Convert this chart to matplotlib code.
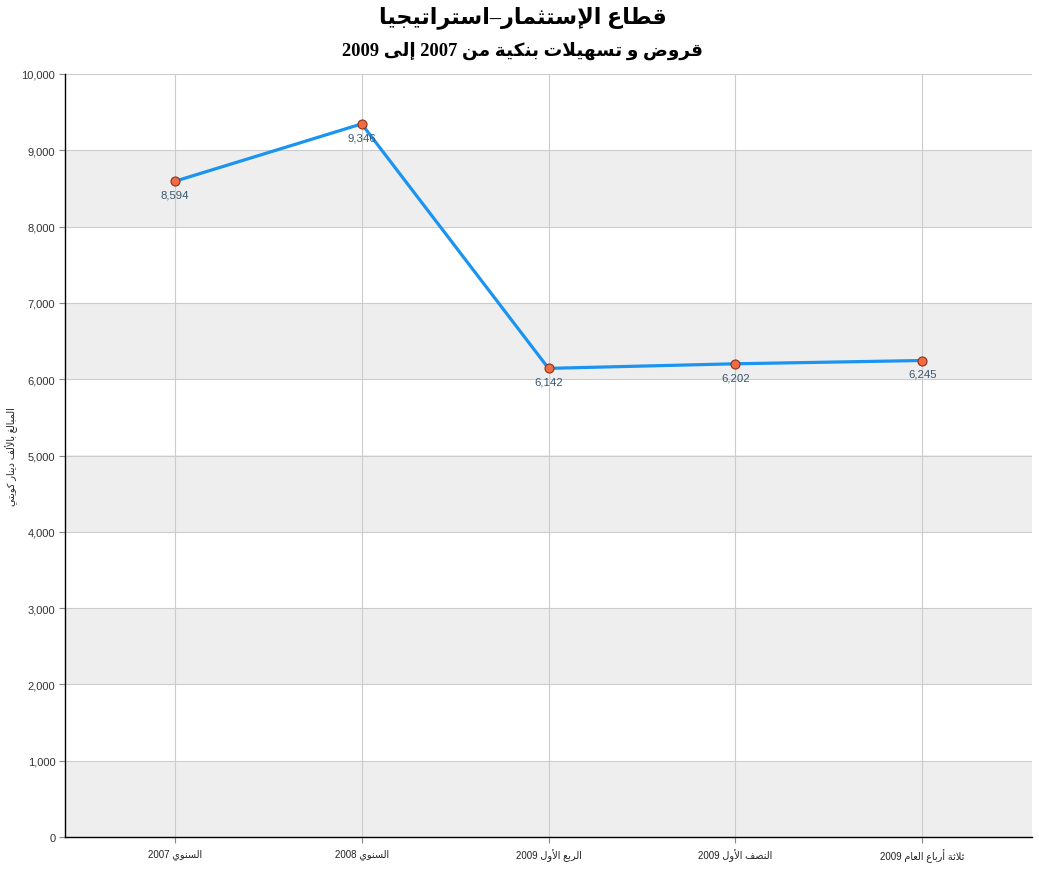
import re
import matplotlib
matplotlib.use("Agg")
import matplotlib.pyplot as plt
from matplotlib.ticker import FuncFormatter, MultipleLocator

# ---- data ----
categories = ["السنوي 2007", "السنوي 2008", "الربع الأول 2009",
              "النصف الأول 2009", "ثلاثة أرباع العام 2009"]
values = [8594, 9346, 6142, 6202, 6245]
title_text = "قطاع الإستثمار–استراتيجيا"
subtitle_text = "قروض و تسهيلات بنكية من 2007 إلى 2009"
ylabel_text = "المبالغ بالألف دينار كويتي"

# ---- minimal Arabic shaping + right-to-left ordering ----
DUAL = {0x0628: 0xFE8F, 0x062A: 0xFE95, 0x062B: 0xFE99, 0x062C: 0xFE9D,
        0x062D: 0xFEA1, 0x062E: 0xFEA5, 0x0633: 0xFEB1, 0x0634: 0xFEB5,
        0x0635: 0xFEB9, 0x0636: 0xFEBD, 0x0637: 0xFEC1, 0x0638: 0xFEC5,
        0x0639: 0xFEC9, 0x063A: 0xFECD, 0x0641: 0xFED1, 0x0642: 0xFED5,
        0x0643: 0xFED9, 0x0644: 0xFEDD, 0x0645: 0xFEE1, 0x0646: 0xFEE5,
        0x0647: 0xFEE9, 0x064A: 0xFEF1, 0x0626: 0xFE89}
RIGHT = {0x0627: 0xFE8D, 0x0623: 0xFE83, 0x0625: 0xFE87, 0x0622: 0xFE81,
         0x0629: 0xFE93, 0x062F: 0xFEA9, 0x0630: 0xFEAB, 0x0631: 0xFEAD,
         0x0632: 0xFEAF, 0x0648: 0xFEED, 0x0649: 0xFEEF}
LAM_ALEF = {0x0627: 0xFEFB, 0x0623: 0xFEF7, 0x0625: 0xFEF9, 0x0622: 0xFEF5}


def ar(s):
    out = []
    n = len(s)
    i = 0
    while i < n:
        c = ord(s[i])
        prev_joins = i > 0 and ord(s[i - 1]) in DUAL
        if c == 0x0644 and i + 1 < n and ord(s[i + 1]) in LAM_ALEF:
            out.append(chr(LAM_ALEF[ord(s[i + 1])] + (1 if prev_joins else 0)))
            i += 2
            continue
        if c in DUAL:
            nxt = i + 1 < n and (ord(s[i + 1]) in DUAL or ord(s[i + 1]) in RIGHT)
            form = (1 if prev_joins else 0) + (2 if nxt else 0)
            out.append(chr(DUAL[c] + form))
        elif c in RIGHT:
            out.append(chr(RIGHT[c] + (1 if prev_joins else 0)))
        else:
            out.append(s[i])
        i += 1
    vis = "".join(out)[::-1]
    return re.sub(r"[0-9][0-9.,]*", lambda m: m.group(0)[::-1], vis)


# ---- figure ----
W, H = 1039, 870
fig = plt.figure(figsize=(W / 100, H / 100), dpi=100)
ax = fig.add_axes([65 / W, 1 - 838 / H, (1032 - 65) / W, (838 - 75) / H])

x = list(range(len(categories)))
ax.set_xlim(-0.588, len(categories) - 1 + 0.588)
ax.set_ylim(0, 10000)

# alternating horizontal bands
for k in range(10):
    if k % 2 == 0:
        ax.axhspan(k * 1000, (k + 1) * 1000, color="#eeeeee", zorder=0, lw=0)

ax.yaxis.set_major_locator(MultipleLocator(1000))
ax.grid(True, color="#cccccc", lw=0.8, zorder=1)
ax.set_axisbelow(True)

ax.plot(x, values, color="#1a94f0", lw=2.3, zorder=3, solid_capstyle="round")
ax.plot(x, values, ls="none", marker="o", ms=6.5, mfc="#f26b47",
        mec="#8a3318", mew=0.8, zorder=4)

for xi, v in zip(x, values):
    ax.annotate(f"{v:,}", (xi, v), xytext=(0, -6), textcoords="offset points",
                ha="center", va="top", fontsize=8.2, color="#3a5670",
                family="Liberation Sans", zorder=5)

for side in ("top", "right"):
    ax.spines[side].set_visible(False)
for side in ("left", "bottom"):
    ax.spines[side].set_color("black")
    ax.spines[side].set_linewidth(1.0)

ax.yaxis.set_major_formatter(FuncFormatter(lambda v, p: f"{int(v):,}"))
ax.tick_params(axis="y", length=4, width=0.8, color="#888888",
               labelsize=8, labelcolor="#333333", pad=3)
ax.tick_params(axis="x", length=4, width=0.8, color="#888888",
               labelsize=7, labelcolor="#222222", pad=4)
for lbl in ax.get_yticklabels():
    lbl.set_family("Liberation Sans")

ax.set_xticks(x)
ax.set_xticklabels([ar(c) for c in categories],
                   family=["Liberation Sans", "DejaVu Sans"])

fig.text(12 / W, 1 - 457 / H, ar(ylabel_text), rotation=90, ha="center",
         va="center", fontsize=7, color="#222222",
         family=["Liberation Sans", "DejaVu Sans"])

fig.text(523 / W, 1 - 18 / H, ar(title_text), ha="center", va="center",
         fontsize=16, fontweight="bold", color="black",
         family=["Liberation Serif", "DejaVu Sans"])
fig.text(523 / W, 1 - 51 / H, ar(subtitle_text), ha="center", va="center",
         fontsize=13.3, fontweight="bold", color="black",
         family=["Liberation Serif", "DejaVu Sans"])

fig.savefig("out.png", dpi=100, facecolor="white")
